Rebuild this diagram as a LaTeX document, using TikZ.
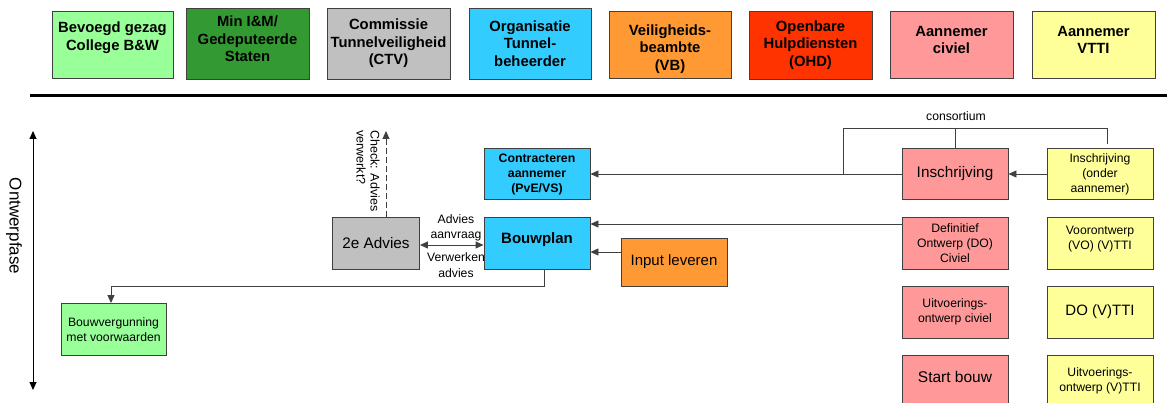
\documentclass[tikz,border=0pt]{standalone}
\usepackage{fontspec}
\setmainfont{Liberation Sans}
\usetikzlibrary{arrows.meta}
\definecolor{cLgreen}{HTML}{99FF99}
\definecolor{cDgreen}{HTML}{339933}
\definecolor{cGray}{HTML}{C0C0C0}
\definecolor{cCyan}{HTML}{33CCFF}
\definecolor{cOrange}{HTML}{FF9933}
\definecolor{cRed}{HTML}{FF3300}
\definecolor{cPink}{HTML}{FF9999}
\definecolor{cYellow}{HTML}{FFFF99}
\definecolor{cLine}{HTML}{404040}
\tikzset{
  box/.style={draw=cLine, line width=0.9pt, align=center, inner sep=0pt},
  hbox/.style={box, minimum width=122pt, minimum height=68pt, font=\fontsize{14.8}{17.5}\selectfont\bfseries},
  sbox/.style={box, minimum width=106pt, minimum height=52pt},
  small/.style={font=\fontsize{12.2}{15}\selectfont},
  mid/.style={font=\fontsize{15.3}{18}\selectfont},
  lbl/.style={align=center, inner sep=0pt, font=\fontsize{12.2}{15.5}\selectfont},
  txtup/.style={text depth=#1},
  txtdown/.style={text height=#1},
  conn/.style={draw=cLine, line width=0.9pt},
  arr/.style={conn, -{Triangle[length=8pt,width=7pt]}},
  darr/.style={conn, {Triangle[length=8pt,width=7pt]}-{Triangle[length=8pt,width=7pt]}},
}
\begin{document}
\begin{tikzpicture}[x=1pt,y=-1pt]
\useasboundingbox (0,0) rectangle (1167,403);
\clip (0,0) rectangle (1167,403);
% header
\node[hbox, fill=cLgreen, minimum width=121pt, minimum height=67pt, txtup=17pt] (h1) at (112.5,44.5) {Bevoegd gezag\\College B\&W};
\node[hbox, fill=cDgreen, minimum width=123pt, minimum height=71pt, txtup=9pt] (h2) at (247.5,43.5) {Min I\&M/\\Gedeputeerde\\Staten};
\node[hbox, fill=cGray, minimum width=123pt, minimum height=71pt] (h3) at (388.5,43.5) {Commissie\\Tunnelveiligheid\\(CTV)};
\node[hbox, fill=cCyan, minimum width=122pt, minimum height=71pt] (h4) at (530,43.5) {Organisatie\\Tunnel-\\beheerder};
\node[hbox, fill=cOrange, minimum height=67pt, txtdown=55pt] (h5) at (670,44.5) {Veiligheids-\\beambte\\(VB)};
\node[hbox, fill=cRed, minimum width=123pt] (h6) at (810.5,45) {Openbare\\Hulpdiensten\\(OHD)};
\node[hbox, fill=cPink, minimum width=123pt, minimum height=67pt, txtup=9pt] (h7) at (951.5,44.5) {Aannemer\\civiel};
\node[hbox, fill=cYellow, minimum width=123pt, minimum height=67pt, txtup=9pt] (h8) at (1093.5,44.5) {Aannemer\\VTTI};
% separator
\coordinate (s1) at (30,96);
\coordinate (s2) at (1167,96);
\draw[line width=3pt] (s1) -- (s2);
% phase arrow
\coordinate (o1) at (33,131);
\coordinate (o2) at (33,390);
\draw[darr, draw=black] (o1) -- (o2);
\node[font=\fontsize{17}{20}\selectfont, rotate=-90, inner sep=0pt] (ontw) at (14,226) {Ontwerpfase};
% lower boxes
\node[sbox, fill=cCyan, font=\fontsize{12.3}{15}\selectfont\bfseries, minimum height=51pt] (contr) at (537,174) {Contracteren\\aannemer\\(PvE/VS)};
\node[sbox, fill=cGray, minimum width=87pt, mid] (adv2) at (376,243) {2e Advies};
\node[sbox, fill=cCyan, font=\fontsize{15}{18}\selectfont\bfseries, txtup=10pt] (bouw) at (537,243) {Bouwplan};
\node[sbox, fill=cOrange, minimum height=48pt, font=\fontsize{15}{18}\selectfont] (input) at (674,262) {Input leveren};
\node[sbox, fill=cLgreen, minimum width=105pt, small] (bv) at (113.5,329.5) {Bouwvergunning\\met voorwaarden};
\node[sbox, fill=cPink, minimum height=51pt, mid] (insP) at (955,174) {Inschrijving};
\node[sbox, fill=cYellow, minimum height=51pt, small] (insY) at (1100,174) {Inschrijving\\(onder\\aannemer)};
\node[sbox, fill=cPink, small] (doC) at (955,243) {Definitief\\Ontwerp (DO)\\Civiel};
\node[sbox, fill=cYellow, small, txtup=10pt] (voY) at (1100,243) {Voorontwerp\\(VO) (V)TTI};
\node[sbox, fill=cPink, small] (uoC) at (955,312) {Uitvoerings-\\ontwerp civiel};
\node[sbox, fill=cYellow, font=\fontsize{15}{18}\selectfont] (doY) at (1100,312) {DO (V)TTI};
\node[sbox, fill=cPink, font=\fontsize{15.5}{18}\selectfont, txtup=8pt] (sb) at (955,381) {Start bouw};
\node[sbox, fill=cYellow, small] (uoY) at (1100,381) {Uitvoerings-\\ontwerp (V)TTI};
% connectors
\draw[arr] (insY) -- (insP);
\draw[arr] (insP) -- (contr);
\coordinate (cL) at (843,174);
\coordinate (cTop) at (956,128);
\coordinate (cR) at (1107,144);
\draw[conn] (cL) -- (cL |- cTop) -- (cR |- cTop) -- (cR);
\draw[conn] (insP.north) -- (insP.north |- cTop);
\node[lbl, anchor=base] (cons) at (956,121) {consortium};
\draw[arr] ([yshift=19pt]doC.west) -- ([yshift=19pt]bouw.east);
\draw[arr] ([yshift=10pt]input.west) -- ([yshift=10pt]input.west -| bouw.east);
\draw[darr] ([yshift=-2pt]adv2.east) -- ([yshift=-2pt]bouw.west);
\node[lbl] (aa) at (456,228) {Advies\\aanvraag};
\node[lbl] (va) at (456,265) {Verwerken\\advies};
\coordinate (chk) at (386,131);
\draw[arr, dash pattern=on 6pt off 3pt] (chk |- adv2.north) -- (chk);
\node[font=\fontsize{12.5}{14}\selectfont, rotate=-90, align=left, inner sep=0pt] (chkl) at (368,171) {Check: Advies\\verwerkt?};
\coordinate (bend) at (544,286.5);
\draw[arr] (bend |- bouw.south) -- (bend) -| ([xshift=-2.5pt]bv.north);
\end{tikzpicture}
\end{document}
